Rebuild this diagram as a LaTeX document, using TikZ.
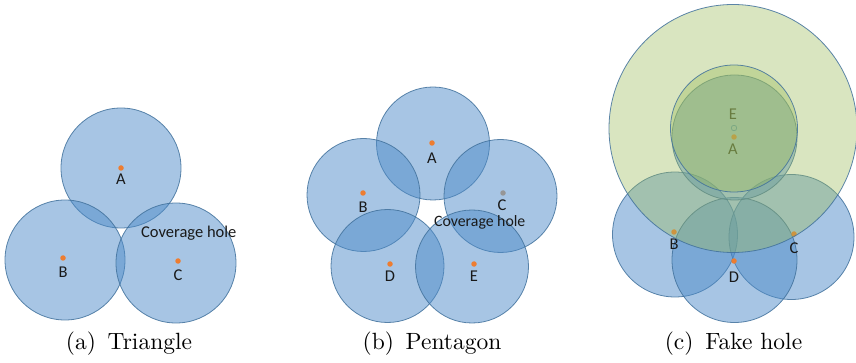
\documentclass[tikz,border=0pt]{standalone}
\usepackage{fontspec}
\newfontfamily\labfont{Carlito}
\newfontfamily\capfont{lmroman10-regular.otf}
\definecolor{covblue}{RGB}{79,140,201}
\definecolor{covedge}{RGB}{65,113,156}
\definecolor{covgreen}{RGB}{155,187,89}
\definecolor{dotorange}{RGB}{237,125,49}
\definecolor{dotgrey}{RGB}{150,150,150}
\definecolor{labcol}{RGB}{25,25,25}
\tikzset{
  cov/.style={circle, inner sep=0pt, draw=covedge, draw opacity=0.85, line width=0.8pt, fill=covblue, fill opacity=0.5},
  covg/.style={circle, inner sep=0pt, draw=covedge, draw opacity=0.85, line width=0.8pt, fill=covgreen, fill opacity=0.38},
  sdot/.style={circle, inner sep=0pt, minimum size=5.5pt, fill=dotorange},
  gdot/.style={circle, inner sep=0pt, minimum size=5.5pt, fill=dotgrey},
  hdot/.style={circle, inner sep=0pt, minimum size=5.5pt, draw=covblue, line width=0.8pt},
  lab/.style={anchor=base, inner sep=0pt, text=labcol, font=\labfont\fontsize{16.5}{18}\selectfont},
  hole/.style={anchor=base west, inner sep=0pt, text=labcol, font=\labfont\fontsize{16.5}{18}\selectfont},
  subcap/.style={anchor=base, inner sep=0pt, font=\capfont\fontsize{23.5}{28}\selectfont}
}
\begin{document}
\begin{tikzpicture}[x=1pt,y=-1pt]
\useasboundingbox (0,0) rectangle (856,363);
% ---------- (a) Triangle
\node[cov, minimum size=120pt] (ca) at (121,168) {};
\node[cov, minimum size=120pt] (cb) at (65,260) {};
\node[cov, minimum size=120pt] (cc) at (176,263) {};
\node[sdot] (da) at (121,168) {};
\node[sdot] (db) at (63,258) {};
\node[sdot] (dc) at (178,261) {};
\node[lab] (la) at (121,185) {A};
\node[lab] (lb) at (63,277) {B};
\node[lab] (lc) at (178,280) {C};
\node[hole] (ha) at (141,238) {Coverage hole};
\node[subcap] (capa) at (129,349) {(a)\hspace{0.5em}Triangle};
% ---------- (b) Pentagon
\node[cov, minimum size=113pt] (pa) at (433,143.5) {};
\node[cov, minimum size=113pt] (pb) at (363.5,195) {};
\node[cov, minimum size=113pt] (pc) at (500.5,196) {};
\node[cov, minimum size=113pt] (pd) at (387.5,266) {};
\node[cov, minimum size=113pt] (pe) at (472,266.5) {};
\node[sdot] (qa) at (432,143) {};
\node[sdot] (qb) at (363,193) {};
\node[gdot] (qc) at (503,193) {};
\node[sdot] (qd) at (390,264) {};
\node[sdot] (qe) at (474,264) {};
\node[lab] (ra) at (432,164) {A};
\node[lab] (rb) at (363,213) {B};
\node[lab] (rc) at (502,211) {C};
\node[lab] (rd) at (390,281.5) {D};
\node[lab] (re) at (474,281.5) {E};
\node[hole, font=\labfont\fontsize{15.8}{18}\selectfont] (hb) at (434,226.5) {Coverage hole};
\node[subcap] (capb) at (432,349) {(b)\hspace{0.5em}Pentagon};
% ---------- (c) Fake hole
\node[cov, minimum size=125pt] (fb) at (675,234.5) {};
\node[cov, minimum size=125pt] (fc) at (791.5,237) {};
\node[cov, minimum size=125pt] (fd) at (734.5,260) {};
\node[cov, minimum size=125pt] (fa) at (734.5,137.5) {};
\node[sdot] (ga) at (734,137) {};
\node[sdot] (gb) at (674,232) {};
\node[sdot] (gc) at (794,234) {};
\node[sdot] (gd) at (734,261) {};
\node[hdot] (ge) at (734,128) {};
\node[lab] (ma) at (733,155) {A};
\node[lab] (mb) at (674,250) {B};
\node[lab] (mc) at (794,254) {C};
\node[lab] (md) at (734,283) {D};
\node[lab] (me) at (733,119.5) {E};
\node[covg, minimum size=248pt] (fbig) at (733,128.5) {};
\node[covg, minimum size=127pt] (fe) at (734,128.5) {};
\node[subcap] (capc) at (733.5,349) {(c)\hspace{0.5em}Fake hole};
\end{tikzpicture}
\end{document}
